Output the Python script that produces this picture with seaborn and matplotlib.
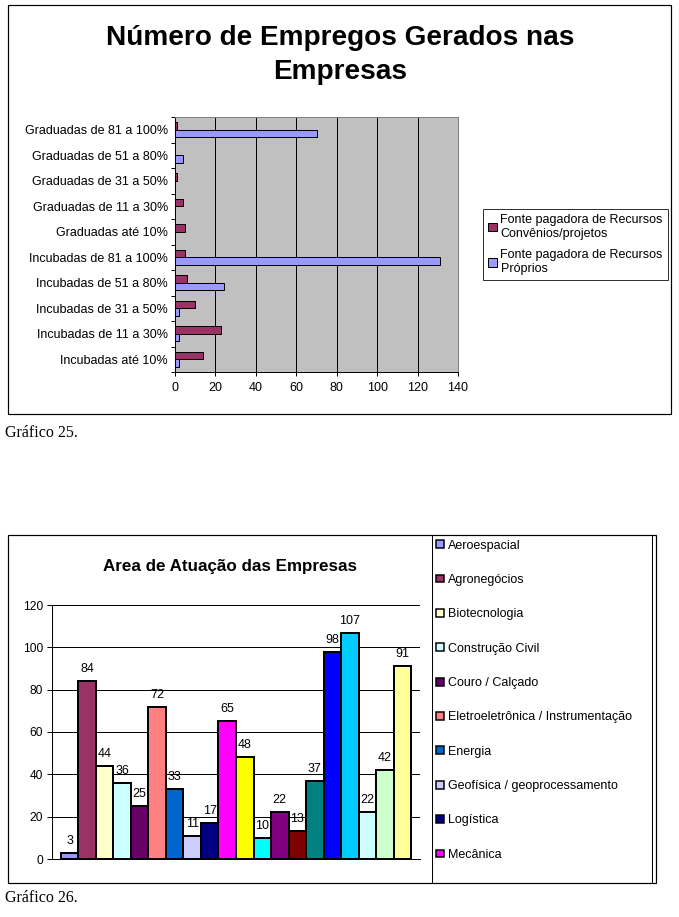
import matplotlib
matplotlib.use("Agg")
import matplotlib.pyplot as plt
import seaborn as sns
import pandas as pd
from matplotlib.patches import Rectangle, Patch
from matplotlib.lines import Line2D

# ---------------- data: chart 25 ----------------
faixas = ["Graduadas de 81 a 100%", "Graduadas de 51 a 80%", "Graduadas de 31 a 50%",
          "Graduadas de 11 a 30%", "Graduadas até 10%", "Incubadas de 81 a 100%",
          "Incubadas de 51 a 80%", "Incubadas de 31 a 50%", "Incubadas de 11 a 30%",
          "Incubadas até 10%"]
series25 = ["Fonte pagadora de Recursos\nConvênios/projetos",
            "Fonte pagadora de Recursos\nPróprios"]
convenios = [1, 0, 1, 4, 5, 5, 6, 10, 23, 14]
proprios = [70, 4, 0, 0, 0, 131, 24, 2, 2, 2]
xticks25 = [0, 20, 40, 60, 80, 100, 120, 140]

# ---------------- data: chart 26 ----------------
areas = ["Aeroespacial", "Agronegócios", "Biotecnologia", "Construção Civil",
         "Couro / Calçado", "Eletroeletrônica / Instrumentação", "Energia",
         "Geofísica / geoprocessamento", "Logística", "Mecânica",
         "área 11", "área 12", "área 13", "área 14", "área 15",
         "área 16", "área 17", "área 18", "área 19", "área 20"]
empresas = [3, 84, 44, 36, 25, 72, 33, 11, 17, 65, 48, 10, 22, 13, 37, 98, 107, 22, 42, 91]
yticks26 = [0, 20, 40, 60, 80, 100, 120]

colors25 = ["#993366", "#9999FF"]
colors26 = ["#9999FF", "#993366", "#FFFFCC", "#CCFFFF", "#660066", "#FF8080",
            "#0066CC", "#CCCCFF", "#000080", "#FF00FF", "#FFFF00", "#00FFFF",
            "#800080", "#800000", "#008080", "#0000FF", "#00CCFF", "#CCFFFF",
            "#CCFFCC", "#FFFF99"]

sns.set_theme(style="white")
plt.rcParams["font.family"] = ["Liberation Sans", "DejaVu Sans"]
plt.rcParams["text.color"] = "black"
plt.rcParams["axes.labelcolor"] = "black"
plt.rcParams["xtick.color"] = "black"
plt.rcParams["ytick.color"] = "black"

W, H = 679, 917
fig = plt.figure(figsize=(W / 72, H / 72), dpi=72)
fig.patch.set_facecolor("white")


def fx(px):
    return px / W


def fy(py):
    return 1 - py / H


# ---------- frames ----------
fig.patches.append(Rectangle((fx(8), fy(414)), fx(671) - fx(8), fy(5) - fy(414),
                             transform=fig.transFigure, fill=False, lw=1.2, ec="black"))
fig.patches.append(Rectangle((fx(8), fy(883)), fx(656) - fx(8), fy(535) - fy(883),
                             transform=fig.transFigure, fill=False, lw=1.2, ec="black"))
fig.lines.append(Line2D([fx(432), fx(432)], [fy(535), fy(883)], transform=fig.transFigure,
                        color="black", lw=1))
fig.lines.append(Line2D([fx(652), fx(652)], [fy(535), fy(883)], transform=fig.transFigure,
                        color="black", lw=1))

# ---------- chart 25 ----------
fig.text(fx(340), fy(38), "Número de Empregos Gerados nas", ha="center", va="center",
         fontsize=28, fontweight="bold")
fig.text(fx(340), fy(72), "Empresas", ha="center", va="center",
         fontsize=28, fontweight="bold")

df25 = pd.DataFrame({
    "faixa": faixas * 2,
    "valor": convenios + proprios,
    "serie": [series25[0]] * len(faixas) + [series25[1]] * len(faixas),
})
ax1 = fig.add_axes([fx(175), fy(372), fx(458) - fx(175), fy(117) - fy(372)])
sns.barplot(data=df25, y="faixa", x="valor", hue="serie", orient="h",
            palette=colors25, saturation=1, width=0.6, edgecolor="black", linewidth=1,
            legend=False, ax=ax1)
ax1.set_facecolor("#C0C0C0")
ax1.set_xlim(0, 140)
ax1.set_ylim(len(faixas) - 0.5, -0.5)
ax1.set_xticks(xticks25)
ax1.set_xticklabels([str(v) for v in xticks25], fontsize=12.5)
ax1.set_yticks(range(len(faixas)))
ax1.set_yticklabels(faixas, fontsize=12.5)
ax1.set_yticks([i - 0.5 for i in range(len(faixas) + 1)], minor=True)
ax1.tick_params(axis="y", which="major", length=0, pad=7)
ax1.tick_params(axis="y", which="minor", length=4, width=1, color="black", direction="out", left=True)
ax1.tick_params(axis="x", length=4, width=1, color="black", direction="out", bottom=True, pad=6)
ax1.set_xlabel("")
ax1.set_ylabel("")
ax1.set_axisbelow(True)
ax1.xaxis.grid(True, color="black", lw=1)
for s in ["top", "right"]:
    ax1.spines[s].set_color("#808080")
    ax1.spines[s].set_linewidth(1)
for s in ["left", "bottom"]:
    ax1.spines[s].set_color("black")
    ax1.spines[s].set_linewidth(1)

h25 = [Patch(facecolor=c, edgecolor="black", lw=1) for c in colors25]
fig.legend(h25, series25, loc="upper left", bbox_to_anchor=(fx(483), fy(209)),
           fontsize=12.5, frameon=True, fancybox=False, edgecolor="black",
           handlelength=0.7, handleheight=0.7, handletextpad=0.3, labelspacing=0.75,
           borderpad=0.4, borderaxespad=0)

fig.text(fx(5), fy(433), "Gráfico 25.", ha="left", va="center", fontsize=16,
         family="Liberation Serif")

# ---------- chart 26 ----------
fig.text(fx(230), fy(566), "Area de Atuação das Empresas", ha="center", va="center",
         fontsize=17, fontweight="bold")

df26 = pd.DataFrame({"area": areas, "n": empresas})
ax2 = fig.add_axes([fx(52), fy(859), fx(420) - fx(52), fy(605) - fy(859)])
sns.barplot(data=df26, x="area", y="n", hue="area", palette=colors26, dodge=False,
            saturation=1, width=1, edgecolor="black", linewidth=2, legend=False, ax=ax2)
ax2.set_xlim(-1, len(areas))
ax2.set_ylim(0, 120)
ax2.set_yticks(yticks26)
ax2.set_yticklabels([str(v) for v in yticks26], fontsize=12)
ax2.set_xticks([])
ax2.set_xlabel("")
ax2.set_ylabel("")
ax2.set_axisbelow(True)
ax2.yaxis.grid(True, color="black", lw=1)
ax2.tick_params(axis="y", length=5, width=1, color="black", direction="out", left=True, pad=4)
for s in ["top", "right"]:
    ax2.spines[s].set_visible(False)
for s in ["left", "bottom"]:
    ax2.spines[s].set_color("black")
    ax2.spines[s].set_linewidth(1)
for cont in ax2.containers:
    ax2.bar_label(cont, fmt="%d", padding=6, fontsize=12.5)

h26 = [Patch(facecolor=c, edgecolor="black", lw=1.5) for c in colors26[:10]]
fig.legend(h26, areas[:10], loc="upper left", bbox_to_anchor=(fx(434), fy(537)),
           fontsize=12.5, frameon=False, handlelength=0.6, handleheight=0.6,
           handletextpad=0.35, labelspacing=1.79, borderpad=0.2, borderaxespad=0)

fig.text(fx(5), fy(898), "Gráfico 26.", ha="left", va="center", fontsize=16,
         family="Liberation Serif")

fig.savefig("out.png", dpi=72)
